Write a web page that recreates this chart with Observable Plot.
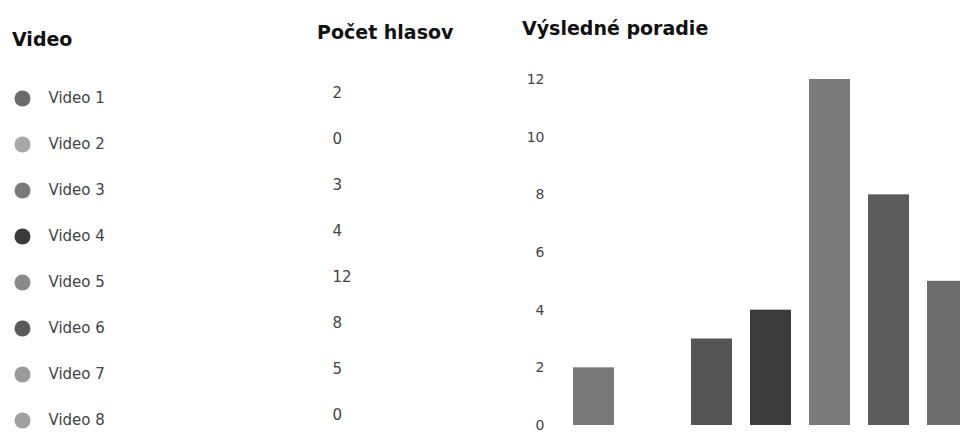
<!DOCTYPE html>
<html>
<head>
<meta charset="utf-8">
<script src="https://cdn.jsdelivr.net/npm/d3@7"></script>
<script src="https://cdn.jsdelivr.net/npm/@observablehq/plot@0.6"></script>
<style>
  html, body { margin: 0; padding: 0; background: #fff; overflow: hidden; }
  #wrap { position: relative; width: 960px; height: 434px; overflow: hidden; font-family: "DejaVu Sans", sans-serif; }
  #wrap > svg { position: absolute; left: 0; top: 0; }
  .hdr { position: absolute; font-family: "DejaVu Sans", sans-serif; font-weight: 700; font-size: 19px; color: #111; white-space: nowrap; line-height: 1; }
</style>
</head>
<body>
<div id="wrap">
  <div class="hdr" style="left:12px; top:30px;">Video</div>
  <div class="hdr" style="left:317px; top:23px;">Počet hlasov</div>
  <div class="hdr" style="left:522px; top:19px;">Výsledné poradie</div>
</div>
<script>
const videos = ["Video 1", "Video 2", "Video 3", "Video 4", "Video 5", "Video 6", "Video 7", "Video 8"];
const votes = [2, 0, 3, 4, 12, 8, 5, 0];
const yTicks = [0, 2, 4, 6, 8, 10, 12];
const iconShades = ["#6a6a6a", "#a8a8a8", "#7a7a7a", "#3a3a3a", "#8a8a8a", "#5a5a5a", "#9a9a9a", "#a0a0a0"];
const barShades = ["#787878", "#787878", "#555555", "#3c3c3c", "#7a7a7a", "#5c5c5c", "#6e6e6e", "#6e6e6e"];

const rows = videos.map((v, i) => ({video: v, votes: votes[i], icon: iconShades[i], bar: barShades[i]}));

const wrap = document.getElementById("wrap");

const table = Plot.plot({
  width: 960,
  height: 434,
  margin: 0,
  style: {background: "transparent", fontFamily: "'DejaVu Sans', sans-serif"},
  x: {axis: null, domain: [0, 1]},
  y: {type: "point", domain: videos, range: [95, 423], padding: 0, axis: null},
  color: {type: "identity"},
  marks: [
    Plot.dot(rows, {y: "video", frameAnchor: "left", dx: 22, r: 8, fill: "icon"}),
    Plot.text(rows, {y: "video", text: "video", frameAnchor: "left", dx: 48, textAnchor: "start", fontSize: 15, fill: "#444"}),
    Plot.text(rows, {y: "video", text: d => String(d.votes), frameAnchor: "left", dx: 332, dy: -5, textAnchor: "start", fontSize: 15, fill: "#444"})
  ]
});
wrap.appendChild(table);

const chart = Plot.plot({
  width: 960,
  height: 434,
  marginLeft: 548,
  marginRight: 0,
  marginTop: 0,
  marginBottom: 0,
  style: {background: "transparent", overflow: "hidden", fontFamily: "'DejaVu Sans', sans-serif"},
  x: {type: "band", domain: videos, range: [554, 1047], padding: 0.3, axis: null},
  y: {domain: [0, 12], range: [425, 79]},
  color: {type: "identity"},
  marks: [
    Plot.barY(rows, {x: "video", y: "votes", fill: "bar"}),
    Plot.axisY({ticks: yTicks, tickSize: 0, tickPadding: 4, label: null, fontSize: 14, color: "#444"})
  ]
});
wrap.appendChild(chart);
</script>
</body>
</html>
